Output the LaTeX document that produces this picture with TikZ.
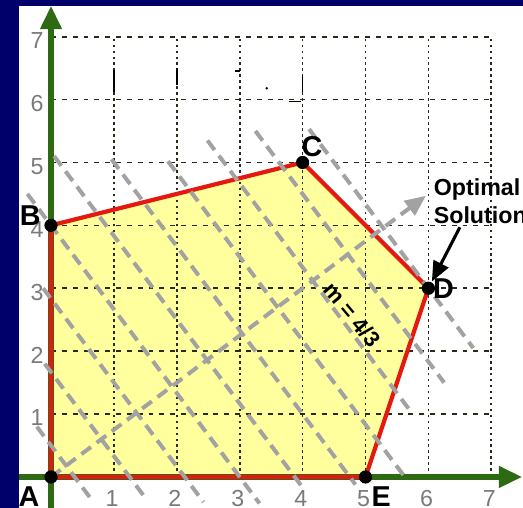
\documentclass[tikz,border=0pt]{standalone}
\usepackage{fontspec}
\setmainfont{Liberation Sans}
\usetikzlibrary{arrows.meta,positioning}
\definecolor{LPNavy}{HTML}{00006A}
\definecolor{LPGreen}{HTML}{2E6A14}
\definecolor{LPRed}{HTML}{E41A10}
\definecolor{LPYellow}{HTML}{FFFF9E}
\definecolor{LPGray}{HTML}{A2A2A2}
\definecolor{LPGrid}{HTML}{2A2A1A}
\definecolor{LPTick}{HTML}{7A7A7A}

\begin{document}
\begin{tikzpicture}[
  axis/.style={-{Triangle[length=3.7mm,width=3.3mm]},line width=2.3pt,draw=LPGreen},
  hgrid/.style={draw=LPGrid,line width=0.75pt,dash pattern=on 2.2pt off 2.7pt},
  vgrid/.style={draw=LPGrid,line width=0.75pt,dash pattern=on 1.2pt off 1.5pt},
  edge/.style={draw=LPRed,line width=1.9pt,line join=round},
  isoline/.style={draw=LPGray,line width=1.8pt,dash pattern=on 5.4pt off 3.2pt},
  objarrow/.style={isoline,-{Triangle[length=3.3mm,width=2.8mm]}},
  vertex/.style={circle,fill=black,inner sep=0pt,minimum size=2.1mm},
  vlabel/.style={font=\fontsize{13}{13}\selectfont\bfseries,inner sep=0pt},
  tick/.style={font=\fontsize{10.5}{10.5}\selectfont,text=LPTick,inner sep=0pt},
  arr/.style={-{Triangle[length=3.2mm,width=2.6mm]},line width=1.4pt,draw=black},
  speck/.style={draw=black,line width=0.8pt}
]
\useasboundingbox (-0.811,-0.493) rectangle (7.504,7.583);
\fill[white] (-0.811,-0.493) rectangle (7.504,7.583);
\fill[LPNavy] (-0.811,-0.493) rectangle (-0.509,7.583);
\fill[LPNavy] (-0.811,7.488) rectangle (7.504,7.583);

% corner points of the region
\coordinate (A) at (0,0);
\coordinate (B) at (0,4);
\coordinate (C) at (4,5);
\coordinate (D) at (6,3);
\coordinate (E) at (5,0);
\fill[LPYellow] (A) -- (B) -- (C) -- (D) -- (E) -- cycle;

% grid
\foreach \y in {1,...,7} \draw[hgrid] (0,\y) -- (7,\y);
\foreach \x in {1,...,7} \draw[vgrid] (\x,0) -- (\x,7);
\draw[speck] (1,6.12) -- (1,6.47);
\draw[speck] (2,6.23) -- (2,6.5);
\draw[speck] (2.93,6.45) -- (3,6.45);
\draw[speck] (4,6.12) -- (4,6.39);
\draw[speck] (3.78,5.97) -- (3.98,5.97);
\fill (3.43,6.18) circle (0.6pt);

% axes
\coordinate (ybot) at (0,-0.49);
\coordinate (ytop) at (0,7.49);
\coordinate (xleft) at (-0.51,0);
\coordinate (xright) at (7.49,0);
\draw[axis] (ybot) -- (ytop);
\draw[axis] (xleft) -- (xright);

\draw[edge] (A) -- (B) -- (C) -- (D) -- (E) -- cycle;

% level lines 4x+3y=c
\foreach \c/\yt/\yb in {1.5/0.8/-0.37, 5/1.8/-0.37, 8.5/3.0/-0.4, 12/4.5/-0.42,
    15.5/5.1/-0.2, 19/5.05/-0.12, 22.5/5.02/0.0, 26/5.35/1.0, 29.5/5.5/1.5, 33/5.53/2.05}
  \draw[isoline] ({(\c-3*(\yt))/4},\yt) -- ({(\c-3*(\yb))/4},\yb);
\coordinate (objtip) at (5.96,4.47);
\draw[objarrow] (A) -- (objtip);

\foreach \p in {A,B,C,D,E} \node[vertex] (dot\p) at (\p) {};

\foreach \k in {1,...,7} {
  \node[tick] (ynum\k) at (-0.22,\k-0.06) {\k};
  \node[tick] (xnum\k) at (\k-0.03,-0.34) {\k};
}

\node[vlabel] (labA) at (-0.35,-0.32) {A};
\node[vlabel] (labB) at (-0.33,4.15) {B};
\node[vlabel] (labC) at (4.15,5.25) {C};
\node[vlabel] (labD) at (6.24,3.0) {D};
\node[vlabel] (labE) at (5.25,-0.32) {E};

\node[anchor=west,align=left,inner sep=0pt,font=\fontsize{10.5}{12.6}\selectfont\bfseries]
  (opt) at (6.08,4.39) {Optimal\\Solution};
\coordinate (opttail) at (6.5,3.97);
\draw[arr,shorten >=1.2mm] (opttail) -- (D);

\node[rotate=-50,inner sep=0pt,font=\fontsize{10}{10}\selectfont\bfseries] (slope) at (4.79,2.58) {m = 4/3};
\end{tikzpicture}
\end{document}
